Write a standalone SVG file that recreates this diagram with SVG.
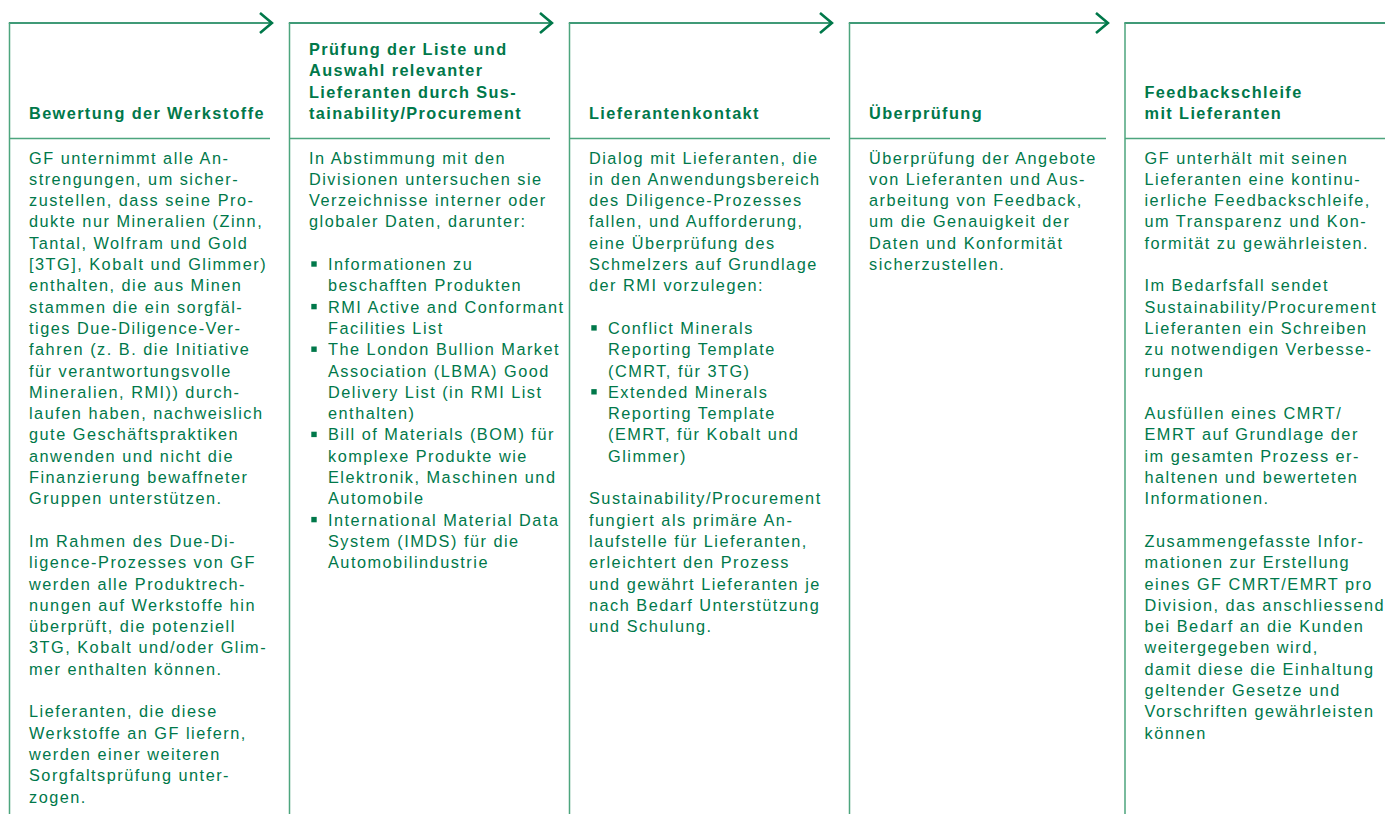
<svg xmlns="http://www.w3.org/2000/svg" width="1385" height="814" viewBox="0 0 1385 814">
<style>
.t{font-family:"Liberation Sans",Arial,sans-serif;font-size:16.3px;letter-spacing:1.5px;fill:#00784a}
.h{font-weight:bold;letter-spacing:1.4px}
.v{stroke:#4da57e;stroke-width:1.5;fill:none}
.top{stroke:#00784a;stroke-width:1.7;fill:none}
.arr{marker-end:url(#chev)}
.b{fill:#00784a}
</style>
<defs>
<marker id="chev" markerUnits="userSpaceOnUse" markerWidth="20" markerHeight="26" refX="14" refY="13" orient="auto" overflow="visible">
<path d="M1.3,3 L13.2,13 L1.3,23" fill="none" stroke="#00784a" stroke-width="2.6"/>
</marker>
</defs>
<rect width="1385" height="814" fill="#fff"/>
<g id="connectors">
<line class="top arr" x1="8.8" y1="23" x2="272.7" y2="23"/>
<line class="top arr" x1="288.8" y1="23" x2="552.7" y2="23"/>
<line class="top arr" x1="568.8" y1="23" x2="832.7" y2="23"/>
<line class="top arr" x1="848.8" y1="23" x2="1108.7" y2="23"/>
<line class="top" x1="1124.3" y1="23" x2="1385" y2="23"/>
</g>
<g id="node1">
<path class="v" d="M9.5,23 V814 M9.5,138.5 H270"/>
<text class="t h" x="29" y="119.3">Bewertung der Werkstoffe</text>
<text class="t">
<tspan x="29" y="163.5">GF unternimmt alle An-</tspan>
<tspan x="29" y="184.8">strengungen, um sicher-</tspan>
<tspan x="29" y="206.1">zustellen, dass seine Pro-</tspan>
<tspan x="29" y="227.4">dukte nur Mineralien (Zinn,</tspan>
<tspan x="29" y="248.7">Tantal, Wolfram und Gold</tspan>
<tspan x="29" y="270">[3TG], Kobalt und Glimmer)</tspan>
<tspan x="29" y="291.3">enthalten, die aus Minen</tspan>
<tspan x="29" y="312.6">stammen die ein sorgfäl-</tspan>
<tspan x="29" y="333.9">tiges Due-Diligence-Ver-</tspan>
<tspan x="29" y="355.2">fahren (z. B. die Initiative</tspan>
<tspan x="29" y="376.5">für verantwortungsvolle</tspan>
<tspan x="29" y="397.8">Mineralien, RMI)) durch-</tspan>
<tspan x="29" y="419.1">laufen haben, nachweislich</tspan>
<tspan x="29" y="440.4">gute Geschäftspraktiken</tspan>
<tspan x="29" y="461.7">anwenden und nicht die</tspan>
<tspan x="29" y="483">Finanzierung bewaffneter</tspan>
<tspan x="29" y="504.3">Gruppen unterstützen.</tspan>
<tspan x="29" y="546.9">Im Rahmen des Due-Di-</tspan>
<tspan x="29" y="568.2">ligence-Prozesses von GF</tspan>
<tspan x="29" y="589.5">werden alle Produktrech-</tspan>
<tspan x="29" y="610.8">nungen auf Werkstoffe hin</tspan>
<tspan x="29" y="632.1">überprüft, die potenziell</tspan>
<tspan x="29" y="653.4">3TG, Kobalt und/oder Glim-</tspan>
<tspan x="29" y="674.7">mer enthalten können.</tspan>
<tspan x="29" y="717.3">Lieferanten, die diese</tspan>
<tspan x="29" y="738.6">Werkstoffe an GF liefern,</tspan>
<tspan x="29" y="759.9">werden einer weiteren</tspan>
<tspan x="29" y="781.2">Sorgfaltsprüfung unter-</tspan>
<tspan x="29" y="802.5">zogen.</tspan>
</text>
</g>
<g id="node2">
<path class="v" d="M289.5,23 V814 M289.5,138.5 H550"/>
<text class="t h">
<tspan x="309" y="54.8">Prüfung der Liste und</tspan>
<tspan x="309" y="76.3">Auswahl relevanter</tspan>
<tspan x="309" y="97.8">Lieferanten durch Sus-</tspan>
<tspan x="309" y="119.3">tainability/Procurement</tspan>
</text>
<text class="t">
<tspan x="309" y="163.5">In Abstimmung mit den</tspan>
<tspan x="309" y="184.8">Divisionen untersuchen sie</tspan>
<tspan x="309" y="206.1">Verzeichnisse interner oder</tspan>
<tspan x="309" y="227.4">globaler Daten, darunter:</tspan>
<tspan x="328" y="270">Informationen zu</tspan>
<tspan x="328" y="291.3">beschafften Produkten</tspan>
<tspan x="328" y="312.6">RMI Active and Conformant</tspan>
<tspan x="328" y="333.9">Facilities List</tspan>
<tspan x="328" y="355.2">The London Bullion Market</tspan>
<tspan x="328" y="376.5">Association (LBMA) Good</tspan>
<tspan x="328" y="397.8">Delivery List (in RMI List</tspan>
<tspan x="328" y="419.1">enthalten)</tspan>
<tspan x="328" y="440.4">Bill of Materials (BOM) für</tspan>
<tspan x="328" y="461.7">komplexe Produkte wie</tspan>
<tspan x="328" y="483">Elektronik, Maschinen und</tspan>
<tspan x="328" y="504.3">Automobile</tspan>
<tspan x="328" y="525.6">International Material Data</tspan>
<tspan x="328" y="546.9">System (IMDS) für die</tspan>
<tspan x="328" y="568.2">Automobilindustrie</tspan>
</text>
<rect class="b" x="311.3" y="261.3" width="5.4" height="5.4"/>
<rect class="b" x="311.3" y="303.9" width="5.4" height="5.4"/>
<rect class="b" x="311.3" y="346.5" width="5.4" height="5.4"/>
<rect class="b" x="311.3" y="431.7" width="5.4" height="5.4"/>
<rect class="b" x="311.3" y="516.9" width="5.4" height="5.4"/>
</g>
<g id="node3">
<path class="v" d="M569.5,23 V814 M569.5,138.5 H830"/>
<text class="t h" x="589" y="119.3">Lieferantenkontakt</text>
<text class="t">
<tspan x="589" y="163.5">Dialog mit Lieferanten, die</tspan>
<tspan x="589" y="184.8">in den Anwendungsbereich</tspan>
<tspan x="589" y="206.1">des Diligence-Prozesses</tspan>
<tspan x="589" y="227.4">fallen, und Aufforderung,</tspan>
<tspan x="589" y="248.7">eine Überprüfung des</tspan>
<tspan x="589" y="270">Schmelzers auf Grundlage</tspan>
<tspan x="589" y="291.3">der RMI vorzulegen:</tspan>
<tspan x="608" y="333.9">Conflict Minerals</tspan>
<tspan x="608" y="355.2">Reporting Template</tspan>
<tspan x="608" y="376.5">(CMRT, für 3TG)</tspan>
<tspan x="608" y="397.8">Extended Minerals</tspan>
<tspan x="608" y="419.1">Reporting Template</tspan>
<tspan x="608" y="440.4">(EMRT, für Kobalt und</tspan>
<tspan x="608" y="461.7">Glimmer)</tspan>
<tspan x="589" y="504.3">Sustainability/Procurement</tspan>
<tspan x="589" y="525.6">fungiert als primäre An-</tspan>
<tspan x="589" y="546.9">laufstelle für Lieferanten,</tspan>
<tspan x="589" y="568.2">erleichtert den Prozess</tspan>
<tspan x="589" y="589.5">und gewährt Lieferanten je</tspan>
<tspan x="589" y="610.8">nach Bedarf Unterstützung</tspan>
<tspan x="589" y="632.1">und Schulung.</tspan>
</text>
<rect class="b" x="591.3" y="325.2" width="5.4" height="5.4"/>
<rect class="b" x="591.3" y="389.1" width="5.4" height="5.4"/>
</g>
<g id="node4">
<path class="v" d="M849.5,23 V814 M849.5,138.5 H1106"/>
<text class="t h" x="869" y="119.3">Überprüfung</text>
<text class="t">
<tspan x="869" y="163.5">Überprüfung der Angebote</tspan>
<tspan x="869" y="184.8">von Lieferanten und Aus-</tspan>
<tspan x="869" y="206.1">arbeitung von Feedback,</tspan>
<tspan x="869" y="227.4">um die Genauigkeit der</tspan>
<tspan x="869" y="248.7">Daten und Konformität</tspan>
<tspan x="869" y="270">sicherzustellen.</tspan>
</text>
</g>
<g id="node5">
<path class="v" d="M1125,23 V814 M1125,138.5 H1385"/>
<text class="t h">
<tspan x="1144.5" y="97.8">Feedbackschleife</tspan>
<tspan x="1144.5" y="119.3">mit Lieferanten</tspan>
</text>
<text class="t">
<tspan x="1144.5" y="163.5">GF unterhält mit seinen</tspan>
<tspan x="1144.5" y="184.8">Lieferanten eine kontinu-</tspan>
<tspan x="1144.5" y="206.1">ierliche Feedbackschleife,</tspan>
<tspan x="1144.5" y="227.4">um Transparenz und Kon-</tspan>
<tspan x="1144.5" y="248.7">formität zu gewährleisten.</tspan>
<tspan x="1144.5" y="291.3">Im Bedarfsfall sendet</tspan>
<tspan x="1144.5" y="312.6">Sustainability/Procurement</tspan>
<tspan x="1144.5" y="333.9">Lieferanten ein Schreiben</tspan>
<tspan x="1144.5" y="355.2">zu notwendigen Verbesse-</tspan>
<tspan x="1144.5" y="376.5">rungen</tspan>
<tspan x="1144.5" y="419.1">Ausfüllen eines CMRT/</tspan>
<tspan x="1144.5" y="440.4">EMRT auf Grundlage der</tspan>
<tspan x="1144.5" y="461.7">im gesamten Prozess er-</tspan>
<tspan x="1144.5" y="483">haltenen und bewerteten</tspan>
<tspan x="1144.5" y="504.3">Informationen.</tspan>
<tspan x="1144.5" y="546.9">Zusammengefasste Infor-</tspan>
<tspan x="1144.5" y="568.2">mationen zur Erstellung</tspan>
<tspan x="1144.5" y="589.5">eines GF CMRT/EMRT pro</tspan>
<tspan x="1144.5" y="610.8">Division, das anschliessend</tspan>
<tspan x="1144.5" y="632.1">bei Bedarf an die Kunden</tspan>
<tspan x="1144.5" y="653.4">weitergegeben wird,</tspan>
<tspan x="1144.5" y="674.7">damit diese die Einhaltung</tspan>
<tspan x="1144.5" y="696">geltender Gesetze und</tspan>
<tspan x="1144.5" y="717.3">Vorschriften gewährleisten</tspan>
<tspan x="1144.5" y="738.6">können</tspan>
</text>
</g>
</svg>
